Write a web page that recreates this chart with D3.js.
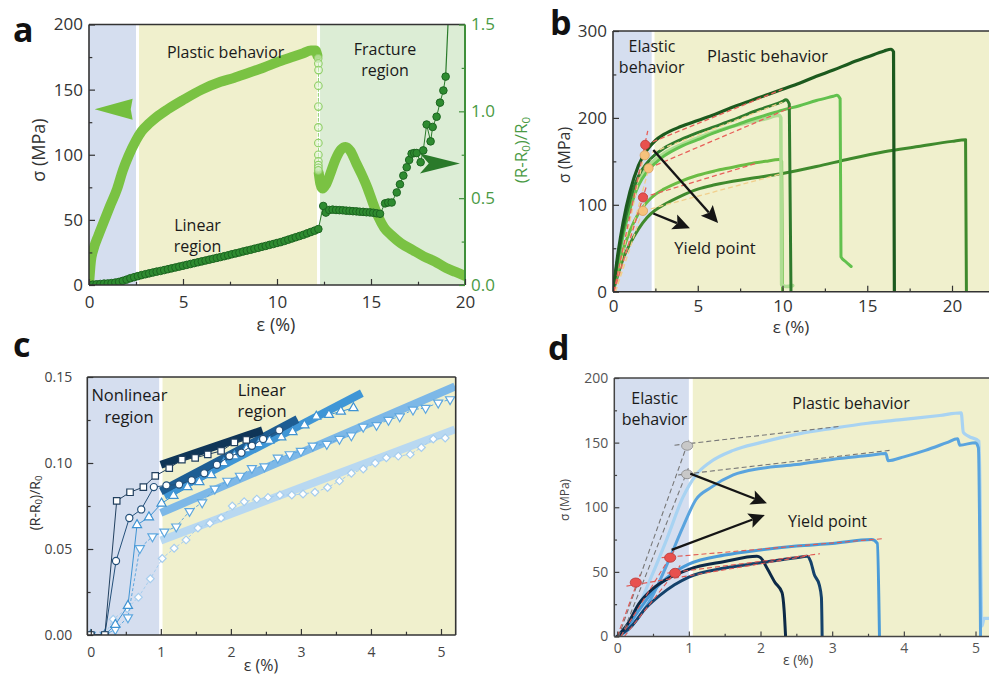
<!DOCTYPE html>
<html><head><meta charset="utf-8">
<script src="https://cdn.jsdelivr.net/npm/d3@7/dist/d3.min.js"></script>
<style>html,body{margin:0;padding:0;background:#fff;}svg{display:block;}</style>
</head><body>
<svg id="fig" width="989" height="677"></svg>
<script>
// ================= DATA =================
// ---- Panel a ----
const aRegions = [[0,2.5],[2.66,12.13],[12.29,20]];
const aXTicks = [0,5,10,15,20], aXMinor = [2.5,7.5,12.5,17.5];
const aYTicks = [0,50,100,150,200], aYMinor = [25,75,125,175];
const aY2Ticks = [0,0.5,1.0,1.5], aY2Minor = [0.25,0.75,1.25];
const aStressStrain = [0,0.1,0.25,0.5,0.8,1.1,1.5,1.8,2.1,2.5,2.8,3.2,3.6,4.2,5.0,6.0,7.0,7.7,8.5,9.3,10.0,10.8,11.4,11.8,12.05,12.15];
const aStress       = [0,18,28,38,49,60,74,88,99,111,118,124,129,135,142,150,156,159,163,167,171,175,178,180,180,176];
const aOpenStrain = [12.19,12.2,12.21,12.2,12.2,12.2,12.2,12.2,12.2,12.2,12.2,12.2];
const aOpenStress = [174,170,165,153,137,121,109,100,95,92,90,88];
const aPostStrain = [12.22,12.3,12.42,12.6,12.85,13.1,13.4,13.65,13.9,14.2,14.5,14.8,15.1,15.4,15.7,16.1,16.6,17.2,17.8,18.4,19.0,19.5,20.0];
const aPostStress = [86,78,74,77,86,96,104,106,103,94,85,75,63,52,44,38,32,27,22,18,13,10,7];
const aResStrain = [0,0.2,0.4,0.6,0.8,1.0,1.2,1.4,1.6,1.8,2.0,2.2,2.4,2.6,2.8,3.0,3.2,3.4,3.6,3.8,4.0,4.2,4.4,4.6,4.8,5.0,5.2,5.4,5.6,5.8,6.0,6.2,6.4,6.6,6.8,7.0,7.2,7.4,7.6,7.8,8.0,8.2,8.4,8.6,8.8,9.0,9.2,9.4,9.6,9.8,10.0,10.2,10.4,10.6,10.8,11.0,11.2,11.4,11.6,11.8,12.0,12.2,
  12.46,12.6,12.78,12.96,13.14,13.32,13.5,13.68,13.86,14.04,14.22,14.4,14.58,14.76,14.94,15.12,15.3,15.48,15.75,15.92,16.1,16.37,16.54,16.72,16.9,17.03,17.16,17.3,17.43,17.64,17.78,17.96,18.17,18.28,18.49,18.67,18.85,18.97];
const aRes = [0,0.002,0.004,0.006,0.008,0.009,0.011,0.014,0.018,0.024,0.031,0.039,0.045,0.051,0.057,0.062,0.067,0.072,0.077,0.081,0.086,0.091,0.096,0.101,0.106,0.111,0.116,0.121,0.126,0.131,0.136,0.141,0.146,0.151,0.156,0.161,0.166,0.171,0.177,0.182,0.187,0.193,0.198,0.203,0.209,0.214,0.220,0.225,0.231,0.236,0.242,0.247,0.254,0.261,0.268,0.275,0.282,0.289,0.297,0.305,0.313,0.322,
  0.455,0.417,0.432,0.434,0.432,0.431,0.430,0.428,0.427,0.425,0.424,0.422,0.421,0.419,0.418,0.416,0.413,0.410,0.470,0.475,0.475,0.533,0.580,0.630,0.678,0.720,0.756,0.760,0.760,0.707,0.775,0.924,0.827,0.910,0.969,1.050,1.120,1.200];
const aTailStrain = [18.97,19.12], aTail = [1.20,1.56];

// ---- Panel b ----
const bRegions = [[0,2.28],[2.45,22.2]];
const bXTicks = [0,5,10,15,20], bXMinor = [2.5,7.5,12.5,17.5];
const bYTicks = [0,100,200,300], bYMinor = [50,150,250];
const bOlive  = [[0,0],[0.3,20],[0.6,38],[1,55],[1.5,72],[2,85],[2.5,94],[3,100],[4,110],[5,118],[6,123],[8,130],[10,136],[12,144],[14,153],[16,161],[18,167],[20,173],[20.8,175],[20.85,0]];
const bMid    = [[0,0],[0.3,25],[0.6,48],[1,70],[1.5,90],[2,103],[2.5,112],[3,118],[4,127],[5,134],[6,139],[7,143],[8,147],[9,150],[9.8,152],[9.95,150],[10.0,0]];
const bPale   = [[0,0],[0.3,38],[0.6,70],[1,100],[1.5,127],[2,142],[2.5,152],[3,159],[4,169],[5,177],[6,184],[7,190],[8,195],[9,199],[9.8,203],[9.9,200],[9.95,8],[10.2,6],[10.6,7]];
const bMedium = [[0,0],[0.3,35],[0.6,65],[1,95],[1.5,122],[2,138],[2.5,148],[3,156],[4,167],[5,175],[6,183],[7,190],[8,197],[9,203],[10,209],[11,214],[12,220],[13,225],[13.2,226],[13.4,222],[13.45,40],[13.7,35],[14.05,29]];
const bDark   = [[0,0],[0.3,40],[0.6,72],[1,105],[1.5,133],[2,148],[2.5,158],[3,165],[4,175],[5,183],[6,190],[7,197],[8,205],[9,212],[10,219],[10.2,221],[10.4,216],[10.5,0]];
const bDarkest= [[0,0],[0.3,45],[0.6,80],[1,115],[1.5,145],[2,163],[2.5,174],[3,181],[4,190],[5,197],[6,204],[7,212],[8,219],[9,226],[10,233],[11,240],[12,248],[13,255],[14,263],[15,270],[16,277],[16.4,279],[16.55,276],[16.6,0]];
const bRedDash   = [[0.05,0,2.05,185],[1.9,169,10,233],[0.05,0,1.95,120],[1.77,108.5,8.5,148],[2.1,142,10.5,212]];
const bCreamDash = [[0.1,0,2.0,172],[0.15,0,2.25,152],[0.15,0,1.9,103],[1.87,157,10,218],[1.77,93,10,136]];
const bYieldRed = [[1.9,169],[1.77,108.5]];
const bYieldOrange = [[1.87,157],[2.1,142],[1.77,93]];
const bArrows = [[2.38,163,6.2,79],[2.38,90,4.54,73]];

// ---- Panel c ----
const cRegions = [[-0.05,0.976],[1.024,5.21]];
const cXTicks = [0,1,2,3,4,5], cXMinor = [0.5,1.5,2.5,3.5,4.5];
const cYTicks = [0,0.05,0.10,0.15], cYMinor = [0.025,0.075,0.125];
const cBars = [[1.0,0.055,5.2,0.1195],[1.0,0.071,5.2,0.1445],[1.05,0.081,3.87,0.1406],[1.0,0.0835,2.95,0.1255],[1.0,0.0990,2.45,0.119]];
const cS1Strain = [0,0.2,0.37,0.56,0.75,0.92,1.12,1.30,1.49,1.67,1.86,2.05,2.22];
const cS1 = [0,0,0.078,0.083,0.086,0.0925,0.097,0.102,0.103,0.105,0.107,0.112,0.1135];
const cS2Strain = [0,0.2,0.36,0.55,0.72,0.9,1.08,1.26,1.44,1.62,1.8,1.98,2.15,2.3,2.46,2.69];
const cS2 = [0,0,0.043,0.068,0.073,0.086,0.087,0.0875,0.090,0.094,0.099,0.104,0.106,0.110,0.114,0.119];
const cS3Strain = [0,0.2,0.35,0.53,0.66,0.83,1.01,1.18,1.38,1.55,1.72,1.9,2.05,2.22,2.4,2.55,2.72,2.88,3.05,3.22,3.4,3.57,3.75];
const cS3 = [0,0,0.006,0.017,0.064,0.0685,0.0765,0.081,0.086,0.089,0.093,0.100,0.104,0.108,0.111,0.113,0.115,0.118,0.122,0.127,0.128,0.130,0.132];
const cS4Strain = [0,0.2,0.35,0.53,0.70,0.88,1.05,1.22,1.41,1.59,1.77,1.95,2.13,2.30,2.48,2.67,2.84,3.0,3.17,3.37,3.55,3.72,3.89,4.08,4.25,4.41,4.6,4.78,4.96,5.13];
const cS4 = [0,0,0.0033,0.0102,0.0504,0.0573,0.060,0.063,0.072,0.077,0.085,0.0896,0.0925,0.097,0.098,0.103,0.105,0.107,0.110,0.111,0.114,0.116,0.121,0.122,0.125,0.127,0.131,0.132,0.135,0.137];
const cS5Strain = [0,0.2,0.32,0.52,0.68,0.85,1.02,1.19,1.36,1.53,1.70,1.86,2.02,2.19,2.37,2.53,2.70,2.87,3.03,3.20,3.38,3.55,3.72,3.89,4.06,4.22,4.39,4.56,4.72,4.89,5.06];
const cS5 = [0,0,0.0092,0.0154,0.022,0.0327,0.0445,0.0504,0.0553,0.0622,0.065,0.068,0.075,0.0775,0.079,0.080,0.0814,0.0814,0.082,0.083,0.0857,0.0896,0.094,0.0965,0.100,0.103,0.104,0.105,0.109,0.114,0.1145];

// ---- Panel d ----
const dRegions = [[-0.04,1.0],[1.055,5.23]];
const dXTicks = [0,1,2,3,4,5], dXMinor = [0.5,1.5,2.5,3.5,4.5];
const dYTicks = [0,50,100,150,200], dYMinor = [25,75,125,175];
const dLight  = [[0,0],[0.2,12],[0.46,44],[0.69,75],[0.92,108],[1.1,125],[1.3,135],[1.62,144],[2,150],[2.55,157],[3,161],[3.5,165],[4,168],[4.5,171],[4.8,173],[4.83,158],[4.9,155],[5.05,151],[5.09,8],[5.12,14],[5.3,14]];
const dMedium = [[0,0],[0.15,5],[0.3,15],[0.46,28],[0.69,55],[0.92,85],[1.1,106],[1.3,115],[1.62,125],[2,130],[2.5,133],[3,137],[3.5,140],[3.75,141.5],[3.78,136],[4,139],[4.3,144],[4.6,150],[4.75,153],[4.78,148],[5.0,150],[5.04,146],[5.07,0]];
const dBlue   = [[0,0],[0.15,8],[0.3,20],[0.5,35],[0.75,48],[1,56],[1.5,63],[2,67],[2.5,70],[3,72],[3.55,75],[3.63,72],[3.66,0]];
const dNavy1  = [[0,0],[0.15,10],[0.3,25],[0.5,37],[0.75,46],[1,52],[1.5,58],[1.95,62],[2.0,61],[2.1,52],[2.2,42],[2.3,34],[2.33,20],[2.35,0]];
const dNavy2  = [[0,0],[0.2,8],[0.4,22],[0.6,32],[0.8,40],[1,46],[1.5,53],[2,57],[2.5,61],[2.65,62],[2.7,58],[2.75,48],[2.82,40],[2.85,30],[2.86,0]];
const dGrayDash = [[0.02,0,1.0,152],[0.06,0,1.0,131],[0.8,148,3.1,162.5],[0.85,125,3.8,144]];
const dRedDash  = [[0,0,0.32,48],[0.05,0,0.8,67],[0.1,0,0.88,55],[0.13,39,2.69,62.6],[0.62,61,3.73,75.8],[0.7,49,2.83,64]];
const dYieldGray = [[0.977,147.5],[0.977,125.5]];
const dYieldRed = [[0.26,41.7],[0.74,61],[0.81,49.2]];
const dArrows = [[1.02,126,2.09,103],[0.76,67,2.06,94]];

// ================= DRAWING =================
const FONT = '"Open Sans","Noto Sans",Arial,sans-serif';
const svg = d3.select("#fig").attr("font-family", FONT);
const zip = (a,b)=>a.map((v,i)=>[v,b[i]]);

function addClip(id,x,y){
  const [x0,x1]=x.range(), [y0,y1]=y.range();
  svg.append("clipPath").attr("id",id).append("rect")
    .attr("x",x0).attr("y",y1).attr("width",x1-x0).attr("height",y0-y1);
}
function regions(g,x,y,list,colors){
  list.forEach((r,i)=>g.append("rect").attr("x",x(r[0])).attr("y",y.range()[1])
    .attr("width",x(r[1])-x(r[0])).attr("height",y.range()[0]-y.range()[1]).attr("fill",colors[i]));
}
function styleAxis(sel,o){
  sel.attr("font-family",FONT);
  sel.select(".domain").remove();
  sel.selectAll(".tick line").attr("stroke",o.col).attr("stroke-width",o.tw||1.2);
  sel.selectAll(".tick text").attr("font-size",o.fs).attr("fill",o.tc).attr("font-family",FONT);
}
function xAxis(g,x,yPos,major,minor,o){
  styleAxis(g.append("g").attr("transform",`translate(0,${yPos})`)
    .call(d3.axisBottom(x).tickValues(major).tickSizeInner(-o.len).tickSizeOuter(0).tickPadding(o.pad).tickFormat(o.fmt)),o);
  styleAxis(g.append("g").attr("transform",`translate(0,${yPos})`)
    .call(d3.axisBottom(x).tickValues(minor).tickSizeInner(-o.len*0.55).tickSizeOuter(0).tickFormat("")),o);
}
function yAxis(g,y,xPos,major,minor,o,right){
  const A = right ? d3.axisRight : d3.axisLeft;
  styleAxis(g.append("g").attr("transform",`translate(${xPos},0)`)
    .call(A(y).tickValues(major).tickSizeInner(-o.len).tickSizeOuter(0).tickPadding(o.pad).tickFormat(o.fmt)),o);
  styleAxis(g.append("g").attr("transform",`translate(${xPos},0)`)
    .call(A(y).tickValues(minor).tickSizeInner(-o.len*0.55).tickSizeOuter(0).tickFormat("")),o);
}
function hline(g,x1,x2,y,c,w){g.append("line").attr("x1",x1).attr("x2",x2).attr("y1",y).attr("y2",y).attr("stroke",c).attr("stroke-width",w);}
function vline(g,x,y1,y2,c,w){g.append("line").attr("x1",x).attr("x2",x).attr("y1",y1).attr("y2",y2).attr("stroke",c).attr("stroke-width",w);}
function label(g,x,y,str,o){
  return g.append("text").attr("x",x).attr("y",y).text(str).attr("font-size",o.fs||16)
    .attr("text-anchor",o.anchor||"middle").attr("fill",o.fill||"#1a1a1a").attr("font-weight",o.fw||"normal").attr("font-family",FONT);
}
function rotLabel(g,x,y,o){
  return g.append("text").attr("transform",`translate(${x},${y}) rotate(-90)`).attr("text-anchor","middle")
    .attr("dominant-baseline","central").attr("font-size",o.fs).attr("fill",o.fill||"#333").attr("font-family",FONT);
}
function rr0(t,fs){
  t.append("tspan").text("(R-R");
  t.append("tspan").attr("font-size",fs*0.68).attr("dy",fs*0.28).text("0");
  t.append("tspan").attr("dy",-fs*0.28).text(")/R");
  t.append("tspan").attr("font-size",fs*0.68).attr("dy",fs*0.28).text("0");
}
function curve(g,x,y,data,c,w,cv){
  return g.append("path").datum(data).attr("d",d3.line().x(d=>x(d[0])).y(d=>y(d[1])).curve(cv||d3.curveMonotoneX))
    .attr("fill","none").attr("stroke",c).attr("stroke-width",w).attr("stroke-linejoin","round").attr("stroke-linecap","round");
}
function dash(g,x,y,d,c,w,da){
  g.append("line").attr("x1",x(d[0])).attr("y1",y(d[1])).attr("x2",x(d[2])).attr("y2",y(d[3]))
    .attr("stroke",c).attr("stroke-width",w).attr("stroke-dasharray",da);
}
function arrow(g,p1,p2,o){
  const dx=p2[0]-p1[0], dy=p2[1]-p1[1], L=Math.hypot(dx,dy), ux=dx/L, uy=dy/L;
  const bx=p2[0]-ux*o.hl, by=p2[1]-uy*o.hl;
  g.append("line").attr("x1",p1[0]).attr("y1",p1[1]).attr("x2",bx+ux*3).attr("y2",by+uy*3)
    .attr("stroke",o.c).attr("stroke-width",o.w);
  const nx=bx+ux*o.hl*0.2, ny=by+uy*o.hl*0.2;
  g.append("path").attr("d",`M${p2[0]},${p2[1]}L${bx-uy*o.hw},${by+ux*o.hw}L${nx},${ny}L${bx+uy*o.hw},${by-ux*o.hw}Z`).attr("fill",o.c);
}
function glyphArrow(g,tip,dir,len,hw,notch,fill){
  const [tx,ty]=tip, bx=tx-dir*len;
  g.append("path").attr("d",`M${tx},${ty}L${bx},${ty-hw}L${bx+dir*len*notch},${ty}L${bx},${ty+hw}Z`).attr("fill",fill);
}
const BLUE="#d5deef", YEL="#f0f0cd", GRN="#dcedd5";

// ---------- Panel a ----------
{
  const x=d3.scaleLinear([0,20],[89,465]);
  const y=d3.scaleLinear([0,200],[285,24.5]);
  const y2=d3.scaleLinear([0,1.5],[285,24.5]);
  addClip("clipA",x,y);
  const g=svg.append("g");
  regions(g,x,y,aRegions,[BLUE,YEL,GRN]);
  const p=g.append("g").attr("clip-path","url(#clipA)");
  curve(p,x,y,zip(aStressStrain,aStress),"#7ac243",10);
  curve(p,x,y,zip(aPostStrain,aPostStress),"#7ac243",10);
  const open=zip(aOpenStrain,aOpenStress);
  curve(p,x,y,open,"#8fcf66",1,d3.curveLinear).attr("stroke-dasharray","3,2");
  p.selectAll("circle.op").data(open).enter().append("circle").attr("class","op")
    .attr("cx",d=>x(d[0])).attr("cy",d=>y(d[1])).attr("r",3.8).attr("fill","rgba(230,245,220,0.5)").attr("stroke","#8fcf66").attr("stroke-width",1.1);
  const res=zip(aResStrain,aRes);
  curve(p,x,y2,res,"#2a7a2a",1,d3.curveLinear);
  curve(p,x,y2,zip(aTailStrain,aTail),"#2a7a2a",1.2,d3.curveLinear);
  p.selectAll("circle.r").data(res).enter().append("circle").attr("class","r")
    .attr("cx",d=>x(d[0])).attr("cy",d=>y2(d[1])).attr("r",3.8).attr("fill","#2e8b30").attr("stroke","#1c6520").attr("stroke-width",1);
  glyphArrow(g,[x(0.3),y(135)],-1,38,10.5,0.05,"#74bf3e");
  glyphArrow(g,[x(19.73),y2(0.70)],1,40,10,0.22,"#2a7a2a");
  label(g,225.6,57.5,"Plastic behavior",{fs:16});
  label(g,385,55,"Fracture",{fs:16});
  label(g,385,76,"region",{fs:16});
  label(g,197.5,230.7,"Linear",{fs:16});
  label(g,197.5,251.5,"region",{fs:16});
  hline(g,89,465,285,"#333",1.6); hline(g,89,465,24.5,"#333",1.6);
  vline(g,89,24.5,285,"#333",1.6); vline(g,465,24.5,285,"#3f8f3a",2);
  const ax={len:6,pad:11,fs:17,col:"#333",tc:"#333",fmt:d3.format("d")};
  xAxis(g,x,285,aXTicks,aXMinor,ax);
  yAxis(g,y,89,aYTicks,aYMinor,{...ax,pad:6});
  yAxis(g,y2,465,aY2Ticks,aY2Minor,{len:6,pad:6,fs:17,col:"#3f8f3a",tc:"#4a9a44",fmt:d3.format(".1f")},true);
  label(g,13,42,"a",{fs:34,fw:"bold",anchor:"start",fill:"#111"});
  rotLabel(g,38,150,{fs:18}).text("σ (MPa)");
  label(g,276,331,"ε (%)",{fs:18,fill:"#333"});
  rr0(rotLabel(g,520,150,{fs:17,fill:"#4a9a44"}),17);
}

// ---------- Panel b ----------
{
  const x=d3.scaleLinear([0,22.2],[613,989.3]);
  const y=d3.scaleLinear([0,300],[291.7,31]);
  addClip("clipB",x,y);
  const g=svg.append("g");
  regions(g,x,y,bRegions,[BLUE,YEL]);
  const p=g.append("g").attr("clip-path","url(#clipB)");
  curve(p,x,y,bOlive,"#3f8a2d",3);
  curve(p,x,y,bMid,"#6abc44",3);
  curve(p,x,y,bPale,"#aedd92",3.6);
  curve(p,x,y,bMedium,"#62c14e",3);
  curve(p,x,y,bDark,"#2e7a2c",3);
  curve(p,x,y,bDarkest,"#1c5a1e",3.2);
  bCreamDash.forEach(d=>dash(p,x,y,d,"#f1cf8c",1.3,"5,3"));
  bRedDash.forEach(d=>dash(p,x,y,d,"#e8605a",1.3,"5,3"));
  p.selectAll("circle.yo").data(bYieldOrange).enter().append("circle")
    .attr("cx",d=>x(d[0])).attr("cy",d=>y(d[1])).attr("r",4.6).attr("fill","#f6c27c").attr("stroke","#d9a060").attr("stroke-width",0.8);
  p.selectAll("circle.yr").data(bYieldRed).enter().append("circle")
    .attr("cx",d=>x(d[0])).attr("cy",d=>y(d[1])).attr("r",4.6).attr("fill","#e8514f").attr("stroke","#c03a38").attr("stroke-width",0.8);
  bArrows.forEach(a=>arrow(g,[x(a[0]),y(a[1])],[x(a[2]),y(a[3])],{c:"#151515",w:2.4,hl:17,hw:8}));
  label(g,652,52,"Elastic",{fs:16});
  label(g,651.7,73,"behavior",{fs:16});
  label(g,767.5,61.7,"Plastic behavior",{fs:16.5});
  label(g,715,254,"Yield point",{fs:16.5});
  hline(g,613,989,291.7,"#333",1.6); hline(g,613,989,31,"#333",1.6);
  vline(g,613,31,291.7,"#333",1.6);
  const ax={len:6,pad:8,fs:17,col:"#333",tc:"#333",fmt:d3.format("d")};
  xAxis(g,x,291.7,bXTicks,bXMinor,ax);
  yAxis(g,y,613,bYTicks,bYMinor,{...ax,pad:6});
  label(g,550,35,"b",{fs:34,fw:"bold",anchor:"start",fill:"#111"});
  rotLabel(g,564,155,{fs:16}).text("σ (MPa)");
  label(g,791,333,"ε (%)",{fs:17,fill:"#333"});
}

// ---------- Panel c ----------
{
  const x=d3.scaleLinear([-0.05,5.21],[87.3,455.7]);
  const y=d3.scaleLinear([0,0.15],[635,377]);
  addClip("clipC",x,y);
  const g=svg.append("g");
  regions(g,x,y,cRegions,[BLUE,YEL]);
  const p=g.append("g").attr("clip-path","url(#clipC)");
  const barCols=["#b8d8f1","#7db8e7","#3f96d6","#1d5d93","#0f3557"];
  cBars.forEach((b,i)=>dash(p,x,y,b,barCols[i],8,null));
  const series=[
    {e:cS5Strain,v:cS5,c:"#a6cdee",sym:d3.symbolSquare,rot:45,sz:30,da:"3,2"},
    {e:cS4Strain,v:cS4,c:"#5ea7df",sym:d3.symbolTriangle,rot:180,sz:36,da:"3,2"},
    {e:cS3Strain,v:cS3,c:"#3f93d2",sym:d3.symbolTriangle,rot:0,sz:36,da:null},
    {e:cS2Strain,v:cS2,c:"#24507a",sym:d3.symbolCircle,rot:0,sz:40,da:null},
    {e:cS1Strain,v:cS1,c:"#22405f",sym:d3.symbolSquare,rot:0,sz:42,da:null}
  ];
  series.forEach(s=>{
    const pts=zip(s.e,s.v);
    p.append("path").datum(pts).attr("d",d3.line().x(d=>x(d[0])).y(d=>y(d[1])))
      .attr("fill","none").attr("stroke",s.c).attr("stroke-width",1).attr("stroke-dasharray",s.da);
    p.selectAll(null).data(pts).enter().append("path")
      .attr("d",d3.symbol().type(s.sym).size(s.sz))
      .attr("transform",d=>`translate(${x(d[0])},${y(d[1])}) rotate(${s.rot})`)
      .attr("fill","#fff").attr("stroke",s.c).attr("stroke-width",1.2);
  });
  label(g,129.5,401,"Nonlinear",{fs:16.5});
  label(g,129,422.5,"region",{fs:16.5});
  label(g,261.7,395.5,"Linear",{fs:16.5});
  label(g,262,417,"region",{fs:16.5});
  hline(g,87.3,455.7,635,"#333",1.6); hline(g,87.3,455.7,377,"#333",1.6);
  vline(g,87.3,377,635,"#333",1.6); vline(g,455.7,377,635,"#333",1.6);
  const ax={len:6,pad:12,fs:14,col:"#333",tc:"#444",fmt:d3.format("d")};
  xAxis(g,x,635,cXTicks,cXMinor,ax);
  yAxis(g,y,87.3,cYTicks,cYMinor,{...ax,pad:15,fmt:d3.format(".2f")});
  label(g,13,357,"c",{fs:34,fw:"bold",anchor:"start",fill:"#111"});
  rr0(rotLabel(g,34,503,{fs:14,fill:"#333"}),14);
  label(g,261,671,"ε (%)",{fs:16,fill:"#333"});
}

// ---------- Panel d ----------
{
  const x=d3.scaleLinear([-0.04,5.23],[614.3,992]);
  const y=d3.scaleLinear([0,200],[636.5,378]);
  addClip("clipD",x,y);
  const g=svg.append("g");
  regions(g,x,y,dRegions,[BLUE,YEL]);
  const p=g.append("g").attr("clip-path","url(#clipD)");
  curve(p,x,y,dLight,"#a8d3f2",3.2);
  curve(p,x,y,dMedium,"#5aa4de",3);
  curve(p,x,y,dBlue,"#4a9bd8",3);
  curve(p,x,y,dNavy2,"#15426b",3);
  curve(p,x,y,dNavy1,"#0d2a47",3);
  dGrayDash.forEach(d=>dash(p,x,y,d,"#777",1.1,"5,3"));
  dRedDash.forEach(d=>dash(p,x,y,d,"#e05a55",1.1,"5,3"));
  p.selectAll("ellipse.g").data(dYieldGray).enter().append("ellipse")
    .attr("cx",d=>x(d[0])).attr("cy",d=>y(d[1])).attr("rx",5.6).attr("ry",4.4).attr("fill","#c8c8c8").attr("stroke","#888").attr("stroke-width",0.8);
  p.selectAll("ellipse.r").data(dYieldRed).enter().append("ellipse")
    .attr("cx",d=>x(d[0])).attr("cy",d=>y(d[1])).attr("rx",5.6).attr("ry",4.6).attr("fill","#e8514f").attr("stroke","#b83a38").attr("stroke-width",0.8);
  dArrows.forEach(a=>arrow(g,[x(a[0]),y(a[1])],[x(a[2]),y(a[3])],{c:"#151515",w:2.2,hl:16,hw:7.5}));
  label(g,654.7,404,"Elastic",{fs:16});
  label(g,654.5,425,"behavior",{fs:16});
  label(g,851,409.3,"Plastic behavior",{fs:16});
  label(g,827.5,527,"Yield point",{fs:16});
  hline(g,614.3,989,636.5,"#444",1.5); hline(g,614.3,989,378,"#444",1.5);
  vline(g,614.3,378,636.5,"#444",1.5);
  const ax={len:5,pad:6.5,fs:14,col:"#444",tc:"#555",fmt:d3.format("d")};
  xAxis(g,x,636.5,dXTicks,dXMinor,ax);
  yAxis(g,y,614.3,dYTicks,dYMinor,{...ax,pad:6});
  label(g,548,360,"d",{fs:34,fw:"bold",anchor:"start",fill:"#111"});
  rotLabel(g,564,500,{fs:12,fill:"#444"}).text("σ (MPa)");
  label(g,798,665,"ε (%)",{fs:14,fill:"#444"});
}
</script>
</body></html>
